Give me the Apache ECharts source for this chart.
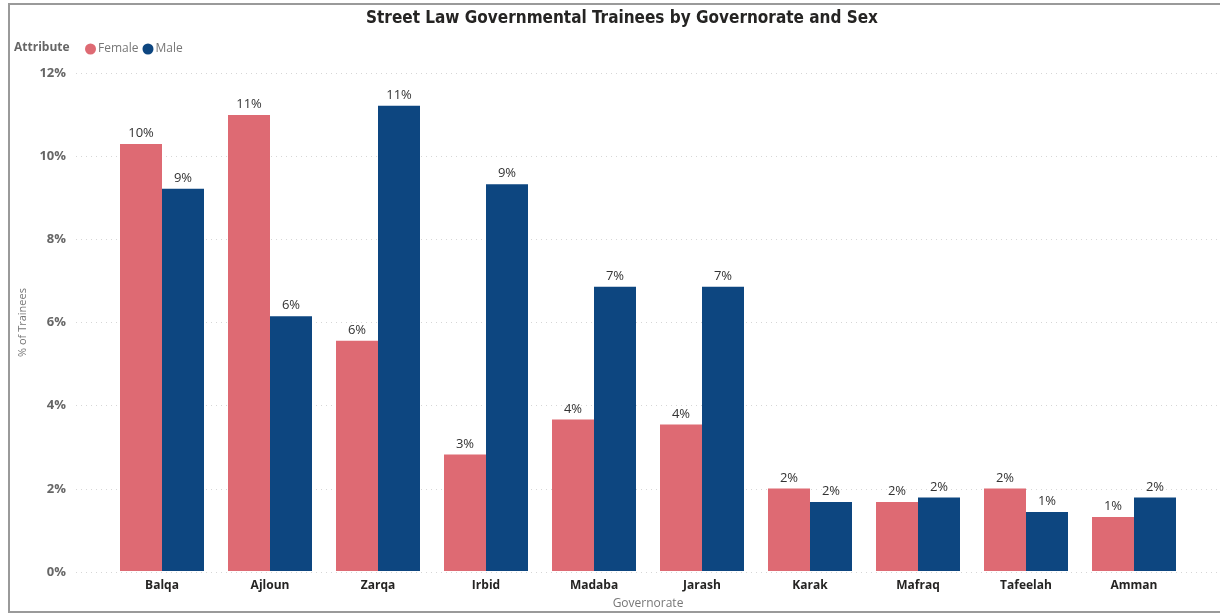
<!DOCTYPE html>
<html>
<head>
<meta charset="utf-8">
<script src="https://cdn.jsdelivr.net/npm/echarts@6/dist/echarts.min.js"></script>
<style>
  html, body { margin: 0; padding: 0; background: #ffffff; }
  #chart { width: 1220px; height: 615px; }
</style>
</head>
<body>
<div id="chart"></div>
<script>
// Share of trainees (%) per governorate, split by sex
const governorates = ['Balqa', 'Ajloun', 'Zarqa', 'Irbid', 'Madaba', 'Jarash', 'Karak', 'Mafraq', 'Tafeelah', 'Amman'];
const female = [10.29, 10.99, 5.55, 2.81, 3.65, 3.53, 1.99, 1.66, 1.99, 1.30];
const male   = [9.21, 6.14, 11.21, 9.32, 6.85, 6.85, 1.66, 1.77, 1.42, 1.77];
const yTicks = [0, 2, 4, 6, 8, 10, 12];

const FEMALE_COLOR = '#DE6A73';
const MALE_COLOR = '#0D4680';
const FONT = "'Open Sans', 'Noto Sans', sans-serif";

const chart = echarts.init(document.getElementById('chart'), null, { renderer: 'canvas' });

const yMax = yTicks[yTicks.length - 1];
const yStep = yTicks[1] - yTicks[0];

const valueLabel = {
  show: true,
  position: 'top',
  distance: 4,
  color: '#333333',
  fontFamily: FONT,
  fontSize: 13,
  formatter: p => Math.round(p.value) + '%'
};

chart.setOption({
  animation: false,
  textStyle: { fontFamily: FONT },
  title: {
    text: 'Street Law Governmental Trainees by Governorate and Sex',
    left: 617,
    textAlign: 'center',
    top: 5,
    textStyle: { fontFamily: "'DejaVu Sans Condensed', 'DejaVu Sans', sans-serif", fontWeight: 'bold', fontSize: 17, color: '#252423' }
  },
  legend: {
    left: 80,
    top: 38,
    itemWidth: 11,
    itemHeight: 11,
    itemGap: 4,
    icon: 'circle',
    textStyle: { color: '#777777', fontSize: 12, fontFamily: FONT, padding: [0, 0, 0, -3] },
    data: ['Female', 'Male']
  },
  graphic: [
    {
      type: 'rect',
      shape: { x: 9, y: 4, width: 1230, height: 608 },
      style: { fill: 'none', stroke: '#9a9a9a', lineWidth: 2 },
      silent: true
    },
    {
      type: 'text',
      left: 14,
      top: 42,
      style: { text: 'Attribute', fill: '#666666', font: "bold 12px 'Open Sans', sans-serif" }
    }
  ],
  grid: [
    // background grid carrying the value axis and dotted gridlines
    { left: 76, right: 2, top: 73, bottom: 43 },
    // grid holding the bars
    { left: 108, right: 32, top: 73, bottom: 43 }
  ],
  xAxis: [
    { gridIndex: 0, type: 'value', show: false, min: 0, max: 1 },
    {
      gridIndex: 1,
      type: 'category',
      data: governorates,
      axisLine: { show: false },
      axisTick: { show: false },
      axisLabel: { color: '#252423', fontWeight: 'bold', fontSize: 12, fontFamily: FONT, margin: 9 },
      name: 'Governorate',
      nameLocation: 'middle',
      nameGap: 27,
      nameTextStyle: { color: '#777777', fontSize: 12, fontFamily: FONT }
    }
  ],
  yAxis: [
    {
      gridIndex: 0,
      type: 'value',
      min: 0,
      max: yMax,
      interval: yStep,
      axisLine: { show: false },
      axisTick: { show: false },
      axisLabel: { formatter: '{value}%', color: '#666666', fontSize: 13, fontWeight: 'bold', fontFamily: FONT, margin: 10 },
      splitLine: { show: true, lineStyle: { color: '#d6d6d6', type: [1, 4], width: 1 } },
      name: '% of Trainees',
      nameLocation: 'middle',
      nameGap: 48,
      nameRotate: 90,
      nameTextStyle: { color: '#777777', fontSize: 11, fontFamily: FONT }
    },
    { gridIndex: 1, type: 'value', min: 0, max: yMax, interval: yStep, show: false }
  ],
  series: [
    {
      name: 'Female',
      type: 'bar',
      xAxisIndex: 1,
      yAxisIndex: 1,
      data: female,
      barWidth: 42,
      barGap: '0%',
      itemStyle: { color: FEMALE_COLOR },
      label: valueLabel
    },
    {
      name: 'Male',
      type: 'bar',
      xAxisIndex: 1,
      yAxisIndex: 1,
      data: male,
      barWidth: 42,
      barGap: '0%',
      itemStyle: { color: MALE_COLOR },
      label: valueLabel
    }
  ]
});
</script>
</body>
</html>
